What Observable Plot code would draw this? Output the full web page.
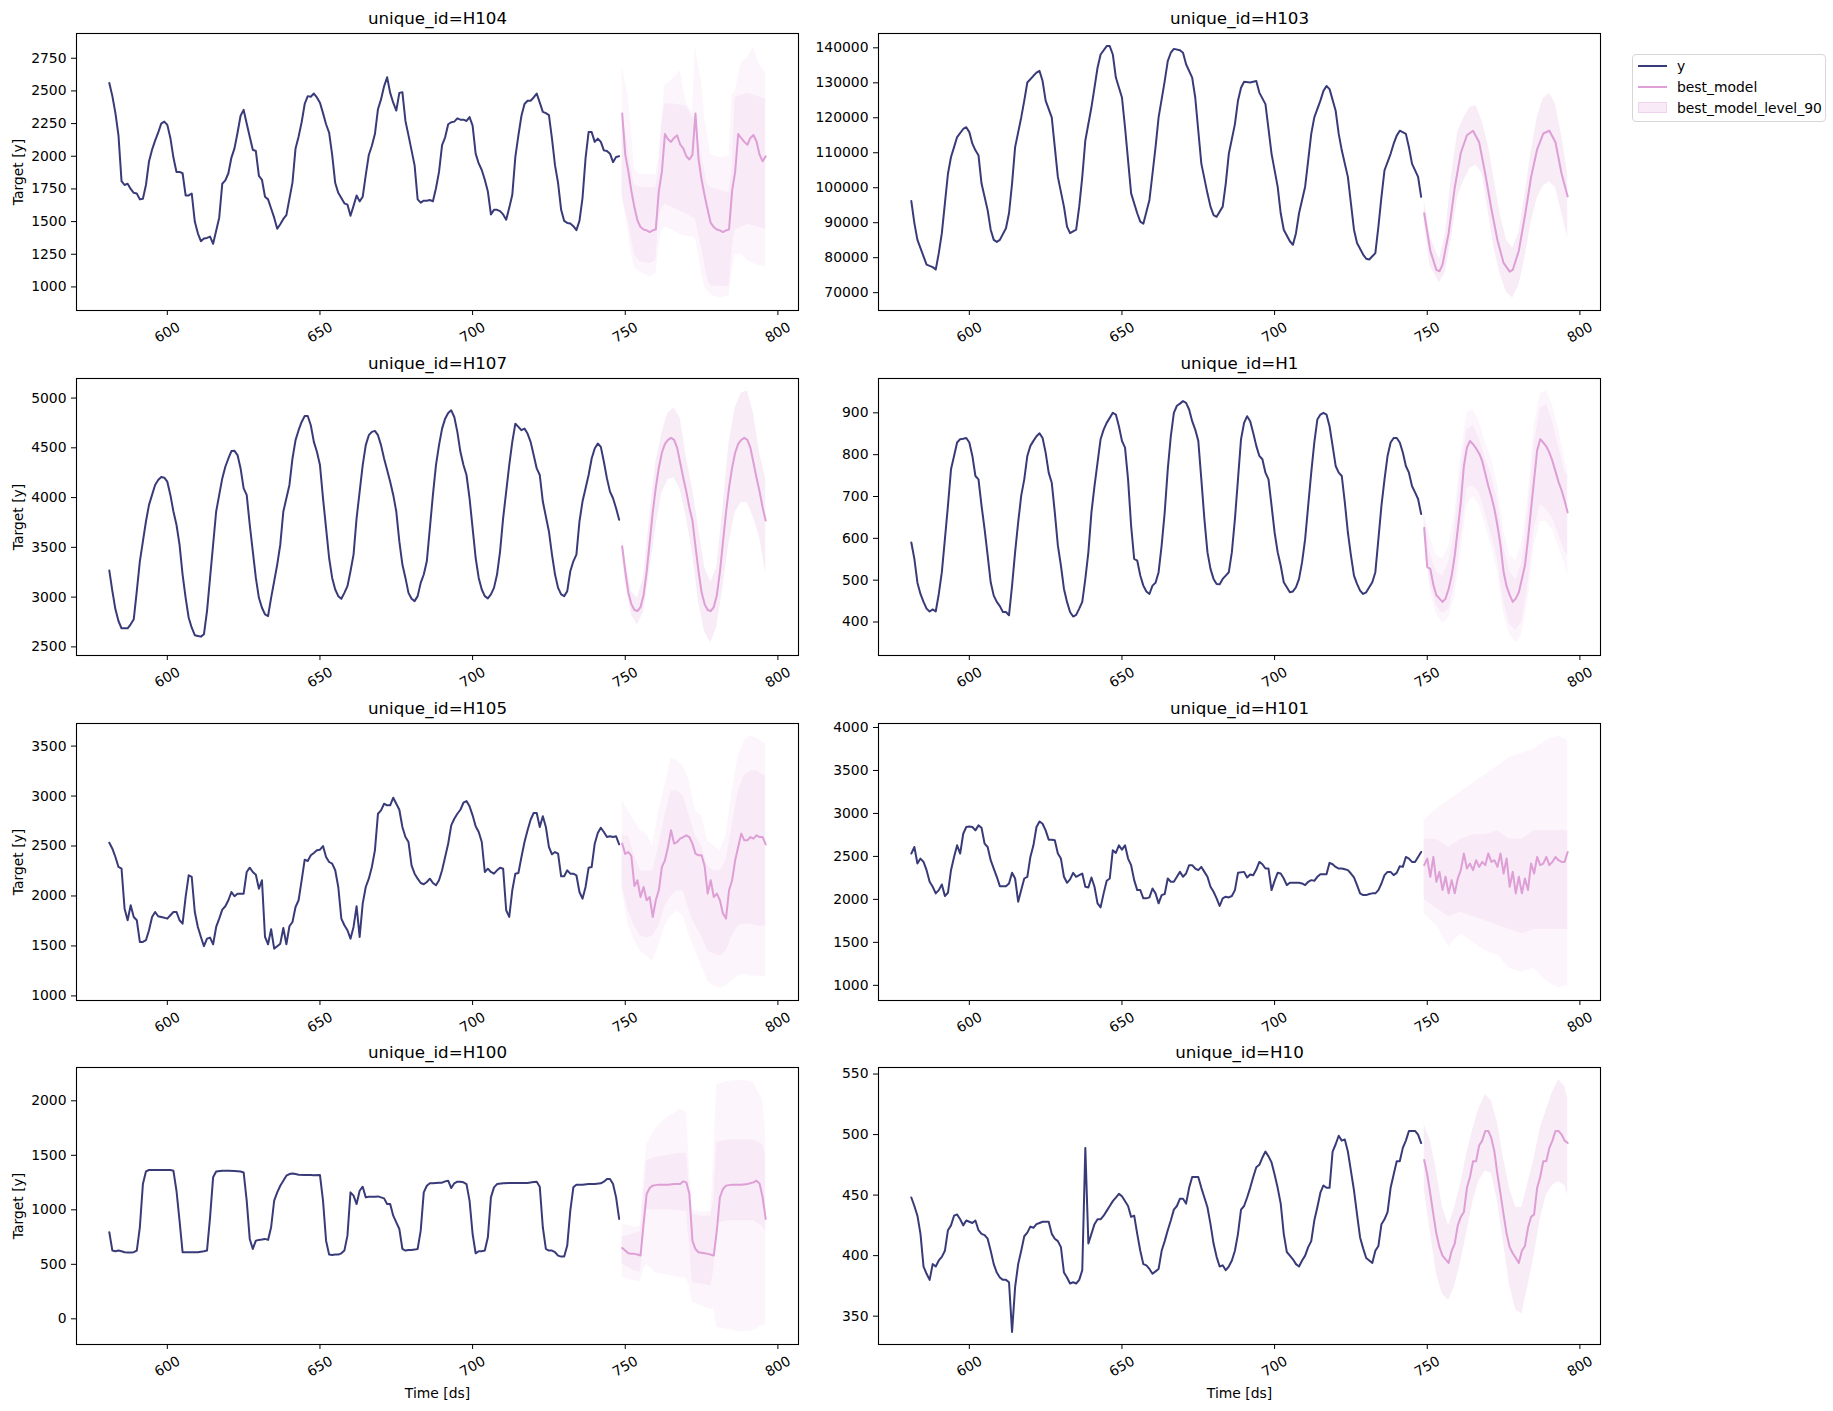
<!DOCTYPE html>
<html>
<head>
<meta charset="utf-8">
<script src="https://cdn.jsdelivr.net/npm/d3@7"></script>
<script src="https://cdn.jsdelivr.net/npm/@observablehq/plot@0.6"></script>
<style>
  html, body { margin: 0; padding: 0; background: #ffffff; }
  #fig { position: relative; width: 1833px; height: 1411px; background: #ffffff; font-family: "DejaVu Sans", sans-serif; }
  #fig svg { position: absolute; }
  #legend { position: absolute; left: 1632px; top: 54px; width: 192px; height: 66px; border: 1px solid #d6d6d6; border-radius: 4px; background: #ffffff; font-size: 13.9px; color: #000; }
  .lg { position: absolute; left: 0; height: 20px; width: 100%; }
  .sw { position: absolute; left: 5px; width: 29px; }
  .lt { position: absolute; left: 44px; top: 0; line-height: 20px; white-space: nowrap; }
</style>
</head>
<body>
<div id="fig">
  <div id="legend">
    <div class="lg" style="top:1px"><div class="sw" style="top:9px;height:2px;background:#393b79"></div><div class="lt">y</div></div>
    <div class="lg" style="top:22px"><div class="sw" style="top:9px;height:2px;background:#de9ed6"></div><div class="lt">best_model</div></div>
    <div class="lg" style="top:43px"><div class="sw" style="top:4px;height:11px;background:rgba(222,158,214,0.22);box-sizing:border-box;border:1px solid rgba(222,158,214,0.3)"></div><div class="lt">best_model_level_90</div></div>
  </div>
</div>
<script>
const NAVY = "#393b79", PINK = "#de9ed6";
const xTicks = [600, 650, 700, 750, 800];

// ---------- H104 ----------
const H104_ticks = [1000, 1250, 1500, 1750, 2000, 2250, 2500, 2750];
const H104_y = [[581,2560],[582,2460],[583,2330],[584,2160],[585,1810],[586,1780],[587,1790],[588,1750],[589,1720],[590,1715],[591,1670],[592,1675],[593,1780],[594,1960],[595,2050],[596,2120],[597,2180],[598,2250],[599,2265],[600,2240],[601,2140],[602,1990],[603,1880],[604,1880],[605,1870],[606,1700],[607,1700],[608,1715],[609,1500],[610,1410],[611,1350],[612,1370],[613,1375],[614,1385],[615,1330],[616,1430],[617,1530],[618,1790],[619,1815],[620,1870],[621,1990],[622,2060],[623,2180],[624,2310],[625,2355],[626,2250],[627,2150],[628,2050],[629,2040],[630,1850],[631,1820],[632,1690],[633,1670],[634,1600],[635,1530],[636,1445],[637,1480],[638,1520],[639,1550],[641,1800],[642,2060],[643,2150],[644,2260],[645,2400],[646,2460],[647,2455],[648,2480],[649,2450],[650,2410],[651,2330],[652,2245],[653,2180],[654,2010],[655,1795],[656,1720],[657,1680],[658,1640],[659,1630],[660,1545],[661,1620],[662,1700],[663,1655],[664,1690],[665,1855],[666,2010],[667,2080],[668,2170],[669,2360],[670,2435],[671,2535],[672,2605],[673,2485],[674,2410],[675,2350],[676,2485],[677,2490],[678,2270],[679,2160],[680,2045],[681,1930],[682,1670],[683,1645],[684,1660],[685,1660],[686,1665],[687,1655],[688,1755],[689,1880],[690,2085],[691,2145],[692,2245],[693,2260],[694,2265],[695,2290],[696,2280],[697,2280],[698,2270],[699,2300],[700,2235],[701,2020],[702,1945],[703,1895],[704,1820],[705,1730],[706,1555],[707,1590],[708,1590],[709,1580],[710,1555],[711,1515],[712,1605],[713,1705],[714,1995],[715,2160],[716,2310],[717,2400],[718,2425],[719,2425],[720,2450],[721,2480],[722,2410],[723,2340],[724,2330],[725,2315],[726,2135],[727,1930],[728,1795],[729,1590],[730,1505],[731,1490],[732,1485],[733,1465],[734,1435],[735,1505],[736,1680],[737,1985],[738,2185],[739,2185],[740,2110],[741,2135],[742,2110],[743,2045],[744,2040],[745,2020],[746,1955],[747,1995],[748,2000]];
const H104_best = [[749,2327],[750,2012],[751,1886],[752,1735],[753,1609],[754,1508],[755,1458],[756,1440],[757,1433],[758,1420],[759,1433],[760,1440],[761,1735],[762,1880],[763,2170],[764,2130],[765,2110],[766,2140],[767,2160],[768,2090],[769,2060],[770,2000],[771,1975],[772,2010],[773,2327],[774,1980],[775,1820],[776,1700],[777,1590],[778,1490],[779,1458],[780,1440],[781,1433],[782,1420],[783,1433],[784,1440],[785,1735],[786,1880],[787,2170],[788,2138],[789,2110],[790,2088],[791,2140],[792,2163],[793,2113],[794,2012],[795,1962],[796,1999]];
const H104_band = [[749,1700,2300],[750,1600,2200],[751,1500,2050],[752,1380,1900],[753,1250,1780],[755,1190,1760],[758,1180,1760],[760,1200,1760],[761,1530,1900],[762,1600,2250],[763,1634,2400],[766,1600,2400],[770,1560,2380],[772,1533,2300],[773,1520,2290],[775,1300,2000],[777,1050,1780],[778,1010,1760],[784,1004,1720],[785,1300,1900],[786,1433,2450],[790,1480,2480],[796,1440,2440]];
const H104_spikes = [[749,1680,2692],[750,1550,2566],[751,1420,2450],[752,1250,2200],[753,1150,1900],[755,1110,1861],[758,1080,1861],[760,1100,1861],[761,1300,2000],[762,1430,2290],[763,1458,2541],[765,1440,2580],[768,1400,2654],[770,1390,2400],[772,1380,2340],[773,1370,2843],[774,1250,2692],[775,1100,2566],[776,1000,2300],[778,940,2012],[781,916,1987],[784,930,2000],[785,1100,2478],[786,1250,2491],[788,1250,2717],[790,1200,2750],[792,1180,2831],[794,1160,2700],[796,1160,2642]];

// ---------- H103 ----------
const H103_ticks = [70000, 80000, 90000, 100000, 110000, 120000, 130000, 140000];
const H103_y = [[581,96200],[582,89900],[583,85100],[585,80400],[586,78000],[588,77300],[589,76600],[590,81300],[591,87000],[592,95500],[593,104000],[594,108800],[595,111600],[596,114500],[598,116800],[599,117300],[600,115900],[601,112600],[602,110700],[603,109300],[604,101200],[606,93600],[607,88000],[608,85100],[609,84500],[610,85100],[612,88400],[613,92700],[614,101200],[615,111600],[617,120100],[618,124900],[619,130100],[621,132000],[622,132900],[623,133400],[624,130500],[625,124900],[627,120100],[628,111600],[629,103100],[631,94600],[632,88900],[633,87000],[635,88000],[636,94600],[637,103100],[638,113500],[640,123000],[641,128600],[642,134300],[643,138100],[645,140500],[646,140500],[647,138100],[648,131500],[650,125800],[651,117300],[652,107800],[653,98400],[655,92700],[656,90300],[657,89700],[659,96500],[660,104000],[661,111600],[662,120100],[664,130500],[665,136200],[666,138600],[667,139700],[669,139300],[670,138600],[671,135300],[673,131500],[674,125800],[675,116300],[676,106900],[678,98400],[679,94600],[680,92200],[681,91700],[683,94600],[684,101200],[685,109700],[687,118200],[688,124900],[689,128600],[690,130300],[692,130100],[693,130300],[694,130500],[695,127200],[697,123900],[698,116800],[699,109700],[701,100300],[702,92700],[703,88000],[705,84700],[706,83700],[707,87000],[708,92700],[710,100300],[711,107800],[712,115400],[713,120100],[715,124900],[716,127700],[717,129100],[718,128200],[720,122000],[721,115400],[722,110700],[724,103100],[725,95500],[726,88000],[727,84200],[729,80900],[730,79700],[731,79500],[733,81300],[734,88900],[735,97400],[736,105000],[738,109700],[739,112600],[740,114900],[741,116300],[743,115400],[744,111600],[745,106900],[747,103100],[748,97400]];
const H103_best = [[749,92700],[751,82000],[753,76500],[754,76100],[755,78000],[757,87000],[759,100000],[761,110000],[763,115000],[765,116300],[767,113000],[769,104000],[771,94000],[773,85000],[775,78500],[777,76000],[778,76500],[780,82000],[782,92000],[784,103000],[786,111000],[788,115500],[790,116300],[792,113000],[794,104000],[796,97500]];
const H103_band = [[749,90000,96500],[751,77500,86000],[754,72800,79500],[756,76000,87000],[758,86000,104000],[760,97500,116000],[762,102000,120000],[764,105500,123000],[766,106500,123500],[768,104000,119000],[770,93000,112000],[772,82000,102000],[774,75000,92000],[776,70000,85000],[778,68500,82800],[780,72000,87000],[782,80000,98000],[784,90000,110000],[786,97000,120000],[788,100500,125500],[790,101700,127000],[792,100000,124000],[794,93000,115000],[796,85600,104000]];

// ---------- H107 ----------
const H107_ticks = [2500, 3000, 3500, 4000, 4500, 5000];
const H107_y = [[581,3267],[582,3060],[583,2877],[584,2760],[585,2687],[587,2687],[588,2727],[589,2777],[590,3060],[591,3360],[592,3560],[593,3760],[594,3927],[595,4027],[596,4127],[597,4177],[598,4207],[599,4200],[600,4160],[601,4027],[602,3860],[603,3727],[604,3527],[605,3227],[606,2993],[607,2793],[608,2693],[609,2617],[610,2610],[611,2603],[612,2627],[613,2860],[614,3193],[615,3527],[616,3860],[617,4027],[618,4193],[619,4310],[620,4393],[621,4467],[622,4470],[623,4427],[624,4293],[625,4093],[626,4027],[627,3727],[628,3460],[629,3193],[630,2993],[631,2893],[632,2827],[633,2810],[634,2993],[635,3160],[636,3327],[637,3527],[638,3860],[640,4127],[641,4393],[642,4577],[643,4677],[644,4760],[645,4820],[646,4820],[647,4727],[648,4560],[649,4460],[650,4327],[651,3993],[652,3693],[653,3393],[654,3193],[655,3077],[656,3010],[657,2983],[658,3043],[659,3110],[660,3260],[661,3427],[662,3793],[663,4060],[664,4327],[665,4527],[666,4627],[667,4660],[668,4670],[669,4627],[670,4527],[671,4393],[672,4277],[673,4160],[674,4027],[675,3860],[676,3560],[677,3327],[678,3193],[679,3043],[680,2983],[681,2960],[682,3010],[683,3143],[684,3227],[685,3360],[686,3693],[687,4027],[688,4327],[689,4527],[690,4693],[691,4793],[692,4850],[693,4877],[694,4810],[695,4660],[696,4460],[697,4327],[698,4227],[699,3993],[700,3693],[701,3393],[702,3193],[703,3077],[704,3010],[705,2987],[706,3027],[707,3093],[708,3227],[709,3460],[710,3793],[711,4060],[712,4327],[713,4560],[714,4743],[715,4710],[716,4677],[717,4693],[718,4643],[719,4560],[720,4427],[721,4293],[722,4227],[723,3960],[725,3660],[726,3427],[727,3227],[728,3093],[729,3027],[730,3010],[731,3060],[732,3260],[733,3360],[734,3427],[735,3760],[736,3960],[737,4093],[738,4227],[739,4393],[740,4493],[741,4543],[742,4510],[743,4360],[744,4193],[745,4060],[746,3993],[747,3893],[748,3777]];
const H107_best = [[749,3510],[750,3260],[751,3050],[752,2930],[753,2870],[754,2860],[755,2900],[756,3020],[757,3250],[758,3550],[759,3850],[760,4100],[761,4300],[762,4450],[763,4540],[764,4580],[765,4600],[766,4580],[767,4500],[768,4350],[769,4200],[770,4060],[771,3900],[772,3770],[773,3510],[774,3260],[775,3050],[776,2930],[777,2870],[778,2860],[779,2900],[780,3020],[781,3250],[782,3550],[783,3850],[784,4100],[785,4300],[786,4450],[787,4540],[788,4580],[789,4600],[790,4580],[791,4500],[792,4350],[793,4200],[794,4060],[795,3900],[796,3770]];
const H107_band = [[749,3440,3580],[750,3150,3380],[752,2820,3060],[754,2720,2990],[756,2850,3200],[758,3250,3800],[760,3700,4350],[762,4050,4650],[764,4180,4850],[766,4200,4900],[768,4080,4800],[770,3800,4400],[772,3450,4100],[774,2950,3700],[776,2650,3300],[778,2540,3150],[780,2700,3300],[782,3100,3900],[784,3550,4550],[786,3850,4900],[788,3950,5050],[790,3950,5070],[792,3800,4850],[794,3600,4450],[796,3240,4190]];

// ---------- H1 ----------
const H1_ticks = [400, 500, 600, 700, 800, 900];
const H1_y = [[581,590],[582,551],[583,494],[584,467],[585,448],[586,432],[587,425],[588,430],[589,425],[590,467],[591,519],[592,598],[593,678],[594,765],[595,797],[596,829],[597,837],[598,838],[599,840],[600,829],[601,797],[602,749],[603,741],[604,678],[605,622],[606,559],[607,495],[608,463],[609,448],[610,438],[611,424],[612,424],[613,416],[614,487],[615,567],[616,638],[617,702],[618,741],[619,797],[620,821],[621,833],[622,844],[623,851],[624,840],[625,805],[626,757],[627,733],[628,662],[629,583],[630,535],[631,479],[632,448],[633,424],[634,413],[635,417],[636,432],[637,448],[638,503],[639,567],[640,662],[641,725],[642,781],[643,837],[644,860],[645,876],[646,888],[647,900],[648,896],[649,868],[650,833],[651,817],[652,741],[653,630],[654,551],[655,547],[656,511],[657,487],[658,473],[659,467],[660,487],[661,494],[662,519],[663,583],[664,662],[665,765],[666,844],[667,900],[668,917],[669,922],[670,928],[671,924],[672,908],[673,880],[674,860],[675,833],[676,741],[677,646],[678,567],[679,527],[680,503],[681,491],[682,490],[683,503],[684,511],[685,519],[686,567],[687,646],[688,741],[689,837],[690,876],[691,892],[692,880],[693,852],[694,821],[695,797],[696,789],[697,757],[698,741],[699,678],[700,614],[701,567],[702,535],[703,495],[704,483],[705,471],[706,473],[707,483],[708,503],[709,543],[710,598],[711,678],[712,757],[713,829],[714,884],[715,896],[716,900],[717,896],[718,868],[719,821],[720,773],[721,757],[722,749],[723,686],[724,614],[725,559],[726,511],[727,491],[728,475],[729,467],[730,471],[731,483],[732,495],[733,519],[734,598],[735,678],[736,741],[737,797],[738,829],[739,840],[740,840],[741,829],[742,805],[743,773],[744,757],[745,725],[746,710],[747,694],[748,658]];
const H1_best = [[749,625],[750,531],[751,527],[752,489],[753,464],[754,456],[755,448],[756,456],[757,479],[758,511],[759,559],[760,622],[761,686],[762,773],[763,817],[764,833],[765,825],[766,815],[767,803],[768,785],[769,755],[770,725],[771,700],[772,670],[773,630],[774,583],[775,520],[776,485],[777,465],[778,448],[779,456],[780,471],[781,503],[782,535],[783,598],[784,670],[785,740],[786,810],[787,837],[788,829],[789,820],[790,805],[791,785],[792,760],[793,735],[794,715],[795,690],[796,662]];
const H1_band = [[749,610,650],[751,490,560],[753,440,520],[755,420,510],[757,430,540],[759,490,620],[761,600,760],[763,720,860],[765,725,870],[767,710,840],[769,660,790],[771,610,750],[773,550,690],[775,450,580],[777,395,520],[779,380,500],[781,400,540],[783,490,660],[785,620,820],[787,680,910],[789,670,920],[791,650,880],[793,610,820],[795,570,760],[796,560,750]];
const H1_spikes = [[749,600,660],[751,470,600],[753,420,560],[755,395,550],[757,410,580],[759,460,660],[761,560,800],[763,680,900],[765,700,908],[767,680,880],[769,630,830],[771,580,790],[773,520,730],[775,420,620],[777,370,560],[779,350,545],[781,370,590],[783,450,700],[785,580,870],[787,640,945],[789,640,952],[791,620,920],[793,580,860],[795,540,790],[796,510,765]];

// ---------- H105 ----------
const H105_ticks = [1000, 1500, 2000, 2500, 3000, 3500];
const H105_y = [[581,2533],[582,2473],[583,2390],[584,2290],[585,2273],[586,1873],[587,1757],[588,1907],[589,1790],[590,1757],[591,1540],[592,1540],[593,1557],[594,1657],[595,1790],[596,1840],[597,1797],[598,1790],[599,1783],[600,1773],[601,1807],[602,1840],[603,1840],[604,1757],[605,1723],[606,1990],[607,2207],[608,2190],[609,1840],[610,1690],[611,1590],[612,1497],[613,1573],[614,1583],[615,1517],[616,1690],[617,1773],[618,1863],[619,1897],[620,1957],[621,2040],[622,1997],[623,2023],[624,2023],[625,2023],[626,2240],[627,2283],[628,2240],[629,2213],[630,2073],[631,2157],[632,1590],[633,1517],[634,1667],[635,1473],[636,1497],[637,1523],[638,1680],[639,1517],[640,1697],[641,1740],[642,1890],[643,1957],[644,2157],[645,2363],[646,2350],[647,2407],[648,2430],[649,2457],[650,2463],[651,2500],[652,2390],[653,2340],[654,2323],[655,2257],[656,2090],[657,1773],[658,1707],[659,1657],[660,1573],[661,1690],[662,1897],[663,1590],[664,1923],[665,2090],[666,2173],[667,2290],[668,2457],[669,2823],[670,2857],[671,2923],[672,2907],[673,2907],[674,2983],[675,2923],[676,2863],[677,2690],[678,2590],[679,2540],[680,2307],[681,2223],[682,2173],[683,2130],[684,2117],[685,2140],[686,2173],[687,2130],[688,2107],[689,2157],[690,2257],[691,2390],[692,2523],[693,2707],[694,2773],[695,2823],[696,2863],[697,2933],[698,2950],[699,2897],[700,2807],[701,2697],[702,2640],[703,2540],[704,2240],[705,2273],[706,2240],[707,2223],[708,2257],[709,2283],[710,2273],[711,1857],[712,1790],[713,2057],[714,2223],[715,2230],[716,2390],[717,2540],[718,2657],[719,2763],[720,2830],[721,2830],[722,2690],[723,2797],[724,2690],[725,2490],[726,2417],[727,2440],[728,2423],[729,2197],[730,2197],[731,2257],[732,2223],[733,2223],[734,2207],[735,2040],[736,1973],[737,2090],[738,2283],[739,2290],[740,2523],[741,2630],[742,2683],[743,2640],[744,2590],[745,2597],[746,2590],[747,2597],[748,2517]];
const H105_best = [[749,2524],[750,2420],[751,2440],[752,2400],[753,2100],[754,2157],[755,1990],[756,2090],[757,1957],[758,1990],[759,1790],[760,1957],[761,2057],[762,2290],[763,2357],[764,2490],[765,2657],[766,2524],[767,2540],[768,2574],[769,2590],[770,2607],[771,2590],[772,2524],[773,2424],[774,2407],[775,2407],[776,2300],[777,2024],[778,2157],[779,1990],[780,2024],[781,1957],[782,1824],[783,1774],[784,2057],[785,2157],[786,2357],[787,2490],[788,2624],[789,2557],[790,2557],[791,2590],[792,2574],[793,2607],[794,2590],[795,2590],[796,2517]];
const H105_band = [[749,2100,2600],[751,1850,2600],[753,1700,2400],[755,1600,2250],[757,1580,2250],[759,1600,2250],[761,1700,2500],[763,1900,2800],[765,2000,3050],[767,2050,3050],[769,2050,3000],[771,1850,2800],[773,1700,2600],[775,1600,2500],[777,1450,2300],[779,1420,2250],[781,1400,2250],[783,1450,2350],[785,1600,2700],[787,1700,3050],[789,1720,3200],[791,1720,3250],[793,1700,3250],[796,1700,3200]];
const H105_spikes = [[749,2050,2950],[751,1700,2850],[753,1550,2750],[755,1450,2650],[757,1400,2620],[759,1350,2500],[761,1500,2850],[763,1700,3100],[765,1800,3380],[767,1850,3350],[769,1800,3300],[771,1600,3150],[773,1450,2850],[775,1300,2800],[777,1150,2550],[779,1100,2500],[781,1080,2450],[783,1100,2600],[785,1150,3050],[787,1200,3400],[789,1220,3550],[791,1200,3600],[793,1200,3580],[796,1190,3520]];

// ---------- H101 ----------
const H101_ticks = [1000, 1500, 2000, 2500, 3000, 3500, 4000];
const H101_y = [[581,2533],[582,2610],[583,2417],[584,2475],[585,2436],[586,2340],[587,2205],[588,2147],[589,2070],[590,2108],[591,2174],[592,2039],[593,2077],[594,2340],[595,2494],[596,2629],[597,2533],[598,2764],[599,2842],[600,2849],[601,2842],[602,2803],[603,2861],[604,2834],[605,2649],[606,2610],[607,2456],[608,2359],[609,2263],[610,2154],[611,2154],[612,2154],[613,2185],[614,2309],[615,2243],[616,1973],[617,2108],[618,2243],[619,2263],[620,2494],[621,2629],[622,2842],[623,2907],[624,2880],[625,2803],[626,2695],[627,2695],[628,2687],[629,2533],[630,2475],[631,2263],[632,2193],[633,2232],[634,2309],[635,2263],[636,2282],[637,2301],[638,2147],[639,2139],[640,2255],[641,2147],[642,1954],[643,1907],[644,2070],[645,2216],[646,2243],[647,2572],[648,2541],[649,2629],[650,2579],[651,2629],[652,2475],[653,2398],[654,2224],[655,2108],[656,2108],[657,2012],[658,2012],[659,2023],[660,2127],[661,2070],[662,1954],[663,2050],[664,2062],[665,2243],[666,2205],[667,2205],[668,2263],[669,2320],[670,2263],[671,2301],[672,2398],[673,2398],[674,2359],[675,2340],[676,2378],[677,2320],[678,2263],[679,2147],[680,2089],[681,2012],[682,1923],[683,2012],[684,2031],[685,2023],[686,2039],[687,2108],[688,2309],[690,2320],[691,2255],[692,2290],[693,2282],[694,2347],[695,2436],[696,2409],[697,2359],[698,2359],[699,2108],[700,2216],[701,2309],[702,2301],[703,2243],[704,2166],[705,2193],[706,2193],[707,2193],[708,2193],[709,2185],[710,2166],[711,2205],[712,2224],[713,2216],[714,2263],[715,2293],[716,2293],[717,2293],[718,2425],[719,2409],[720,2378],[721,2359],[722,2359],[723,2351],[724,2340],[725,2301],[726,2255],[727,2166],[728,2070],[729,2050],[730,2050],[731,2062],[732,2070],[733,2070],[734,2108],[735,2185],[736,2282],[737,2320],[738,2320],[739,2282],[740,2309],[741,2386],[742,2378],[743,2494],[744,2475],[745,2436],[746,2436],[747,2494],[748,2552]];
const H101_best = [[749,2398],[750,2475],[751,2263],[752,2494],[753,2205],[754,2320],[755,2108],[756,2263],[757,2070],[758,2224],[759,2070],[760,2243],[761,2340],[762,2533],[763,2359],[764,2417],[765,2340],[766,2456],[767,2378],[768,2436],[769,2398],[770,2533],[771,2436],[772,2456],[773,2378],[774,2533],[775,2301],[776,2475],[777,2147],[778,2320],[779,2070],[780,2263],[781,2070],[782,2243],[783,2108],[784,2417],[785,2301],[786,2494],[787,2398],[788,2417],[789,2494],[790,2398],[791,2436],[792,2494],[793,2456],[794,2436],[795,2436],[796,2552]];
const H101_band = [[749,2000,2700],[753,1900,2700],[757,1800,2600],[761,1850,2700],[765,1800,2750],[769,1750,2750],[773,1700,2800],[777,1650,2700],[781,1600,2700],[785,1650,2800],[789,1650,2800],[793,1650,2800],[796,1650,2800]];
const H101_spikes = [[749,1830,2920],[753,1700,3050],[757,1450,3150],[761,1600,3250],[765,1500,3350],[769,1400,3450],[773,1350,3550],[777,1200,3650],[781,1150,3700],[785,1200,3750],[789,1050,3850],[793,970,3900],[796,1000,3850]];

// ---------- H100 ----------
const H100_ticks = [0, 500, 1000, 1500, 2000];
const H100_y = [[581,794],[582,626],[583,620],[584,626],[585,620],[586,611],[587,608],[588,608],[589,611],[590,626],[591,840],[592,1236],[593,1352],[594,1365],[597,1365],[599,1365],[601,1365],[602,1358],[603,1175],[604,901],[605,611],[606,611],[608,611],[610,611],[612,620],[613,626],[614,931],[615,1298],[616,1352],[618,1358],[620,1358],[622,1356],[624,1352],[625,1343],[626,1084],[627,733],[628,641],[629,717],[630,724],[631,727],[632,733],[633,724],[634,840],[635,1084],[636,1160],[637,1221],[638,1267],[639,1313],[640,1328],[641,1334],[642,1328],[643,1322],[645,1319],[647,1319],[648,1316],[650,1319],[651,1084],[652,717],[653,589],[654,586],[655,589],[656,589],[657,601],[658,626],[659,763],[660,1160],[661,1130],[662,1053],[663,1175],[664,1212],[665,1114],[666,1120],[667,1120],[668,1120],[669,1123],[670,1114],[671,1105],[672,1053],[673,1053],[674,946],[675,885],[676,824],[677,641],[678,626],[679,632],[680,632],[681,635],[682,641],[683,809],[684,1160],[685,1221],[686,1243],[687,1243],[688,1246],[689,1249],[690,1249],[691,1261],[692,1267],[693,1200],[694,1243],[695,1258],[696,1258],[697,1252],[698,1236],[699,1084],[700,778],[701,601],[702,620],[703,620],[704,626],[705,748],[706,1114],[707,1206],[708,1236],[710,1243],[712,1246],[714,1246],[716,1246],[718,1246],[720,1255],[721,1258],[722,1212],[723,840],[724,641],[725,626],[726,626],[727,611],[728,580],[729,571],[730,571],[731,672],[732,992],[733,1206],[734,1230],[736,1230],[738,1236],[740,1236],[742,1243],[743,1258],[744,1282],[745,1282],[746,1236],[747,1114],[748,916]];
const H100_best = [[749,650],[750,626],[751,602],[752,598],[753,596],[754,590],[755,581],[756,870],[757,1145],[758,1200],[759,1222],[761,1231],[764,1231],[766,1237],[768,1237],[769,1261],[770,1252],[771,1150],[772,718],[773,640],[774,611],[776,602],[777,596],[779,581],[780,810],[781,1115],[782,1191],[783,1222],[785,1231],[788,1231],[790,1237],[792,1252],[793,1267],[794,1240],[795,1115],[796,916]];
const H100_band = [[749,500,750],[753,440,780],[755,430,800],[756,700,1100],[757,1000,1450],[760,1000,1480],[764,1000,1500],[768,990,1520],[770,990,1520],[771,700,1200],[772,330,960],[775,320,940],[778,300,940],[779,450,1100],[780,880,1620],[784,900,1640],[788,900,1640],[792,900,1640],[795,850,1600],[796,800,1500]];
const H100_spikes = [[749,380,870],[753,350,840],[755,340,850],[756,450,1300],[757,500,1600],[760,420,1750],[764,400,1850],[768,380,1920],[770,370,1900],[771,300,1400],[772,150,1000],[775,120,980],[778,80,990],[779,100,1500],[780,-80,2150],[784,-100,2180],[788,-120,2190],[792,-110,2170],[795,-60,2000],[796,-50,1700]];

// ---------- H10 ----------
const H10_ticks = [350, 400, 450, 500, 550];
const H10_y = [[581,448],[582,441],[583,433],[584,418],[585,391],[586,385],[587,380],[588,393],[589,391],[590,396],[591,399],[592,404],[593,421],[594,425],[595,433],[596,434],[597,430],[598,425],[599,429],[600,428],[601,427],[602,429],[603,421],[604,418],[605,417],[606,414],[607,404],[608,393],[609,386],[610,382],[611,380],[612,380],[613,378],[614,337],[615,374],[616,393],[617,404],[618,416],[619,419],[620,424],[621,423],[622,426],[623,427],[624,428],[625,428],[626,428],[627,418],[628,414],[629,412],[630,407],[631,386],[632,382],[633,377],[634,378],[635,377],[636,380],[637,388],[638,489],[639,410],[640,418],[641,426],[642,430],[643,430],[644,433],[645,437],[646,441],[647,445],[648,448],[649,451],[650,449],[652,441],[653,432],[654,433],[655,418],[656,404],[657,393],[658,392],[659,389],[660,385],[661,387],[662,389],[663,404],[664,412],[665,421],[666,429],[667,438],[668,441],[669,447],[670,447],[671,443],[672,456],[673,465],[674,465],[675,465],[676,456],[677,448],[678,440],[679,426],[680,410],[681,399],[682,391],[683,392],[684,388],[685,391],[686,396],[687,404],[688,418],[689,438],[690,441],[691,448],[692,456],[693,465],[694,473],[695,475],[696,481],[697,486],[698,482],[699,477],[700,467],[701,456],[702,443],[703,418],[704,403],[705,400],[706,397],[707,393],[708,391],[709,396],[710,400],[711,407],[712,412],[713,429],[714,440],[715,452],[716,458],[717,456],[718,456],[719,486],[720,492],[721,499],[722,495],[723,496],[724,486],[725,470],[726,454],[727,434],[728,415],[729,406],[730,398],[731,396],[732,394],[733,404],[734,408],[735,426],[736,430],[737,436],[738,456],[739,467],[740,478],[741,478],[742,489],[743,495],[744,503],[745,503],[746,503],[747,500],[748,493]];
const H10_best = [[749,479],[750,467],[751,451],[752,434],[753,418],[754,407],[755,400],[756,397],[757,394],[758,404],[759,410],[760,425],[761,432],[762,436],[763,456],[764,465],[765,478],[766,478],[767,491],[768,495],[769,503],[770,503],[771,497],[772,486],[773,467],[774,451],[775,434],[776,418],[777,407],[778,402],[779,398],[780,394],[781,404],[782,408],[783,423],[784,432],[785,434],[786,456],[787,465],[788,478],[789,478],[790,489],[791,495],[792,503],[793,503],[794,500],[795,495],[796,493]];
const H10_band = [[749,455,508],[751,420,495],[753,385,470],[755,368,440],[757,363,425],[759,375,440],[761,395,460],[763,420,485],[765,445,505],[767,462,522],[769,470,533],[771,468,528],[773,445,510],[775,410,480],[777,375,455],[779,355,440],[781,352,440],[783,375,460],[785,400,480],[787,430,505],[789,450,520],[791,458,535],[793,461,545],[795,458,540],[796,450,530]];

const panels = [
  {title: "unique_id=H104", y: H104_y, best: H104_best, band: H104_band, spikes: H104_spikes, ticks: H104_ticks},
  {title: "unique_id=H103", y: H103_y, best: H103_best, band: H103_band, ticks: H103_ticks},
  {title: "unique_id=H107", y: H107_y, best: H107_best, band: H107_band, ticks: H107_ticks},
  {title: "unique_id=H1", y: H1_y, best: H1_best, band: H1_band, spikes: H1_spikes, ticks: H1_ticks},
  {title: "unique_id=H105", y: H105_y, best: H105_best, band: H105_band, spikes: H105_spikes, ticks: H105_ticks},
  {title: "unique_id=H101", y: H101_y, best: H101_best, band: H101_band, spikes: H101_spikes, ticks: H101_ticks},
  {title: "unique_id=H100", y: H100_y, best: H100_best, band: H100_band, spikes: H100_spikes, ticks: H100_ticks},
  {title: "unique_id=H10", y: H10_y, best: H10_best, band: H10_band, ticks: H10_ticks}
];

const fig = document.getElementById("fig");
const tops = [0, 345, 690, 1034];
const X = d => d[0], V = d => d[1], LO = d => d[1], HI = d => d[2];

panels.forEach((p, i) => {
  const col = i % 2, row = Math.floor(i / 2), last = row === 3;
  const vals = p.y.map(V).concat(p.best.map(V));
  for (const d of p.band.concat(p.spikes || [])) vals.push(d[1], d[2]);
  const [mn, mx] = d3.extent(vals);
  const pad = (mx - mn) * 0.05;
  const xs = p.y.map(X).concat(p.best.map(X));
  const [x0, x1] = d3.extent(xs);
  const xpad = (x1 - x0) * 0.05;

  const marks = [];
  if (p.spikes) marks.push(Plot.areaY(p.spikes, {x: X, y1: LO, y2: HI, fill: PINK, fillOpacity: 0.1, curve: "linear"}));
  marks.push(Plot.areaY(p.band, {x: X, y1: LO, y2: HI, fill: PINK, fillOpacity: p.spikes ? 0.12 : 0.2, curve: "linear"}));
  marks.push(Plot.line(p.y, {x: X, y: V, stroke: NAVY, strokeWidth: 2}));
  marks.push(Plot.line(p.best, {x: X, y: V, stroke: PINK, strokeWidth: 2}));
  marks.push(Plot.frame({stroke: "black", strokeWidth: 1.1}));
  marks.push(Plot.axisY(p.ticks, {tickSize: 5, tickPadding: 5, tickFormat: d => String(d), label: null, fontSize: 13.9}));
  marks.push(Plot.axisX(xTicks, {tickSize: 5, tickFormat: () => "", label: null}));
  marks.push(Plot.text(xTicks, {x: d => d, text: d => String(d), frameAnchor: "bottom", dy: 22, rotate: -30, fontSize: 13.9, textAnchor: "middle", lineAnchor: "middle"}));
  marks.push(Plot.text([p.title], {text: d => d, frameAnchor: "top", dy: -15, fontSize: 16.7, lineAnchor: "middle"}));
  if (col === 0) marks.push(Plot.text(["Target [y]"], {text: d => d, frameAnchor: "left", dx: -58, rotate: -90, fontSize: 13.9, lineAnchor: "middle", textAnchor: "middle"}));
  if (last) marks.push(Plot.text(["Time [ds]"], {text: d => d, frameAnchor: "bottom", dy: 49, fontSize: 13.9, lineAnchor: "middle"}));

  const svg = Plot.plot({
    width: 802,
    height: last ? 377 : 345,
    marginLeft: 76,
    marginRight: 4,
    marginTop: 33,
    marginBottom: last ? 67 : 35,
    x: {domain: [x0 - xpad, x1 + xpad]},
    y: {domain: [mn - pad, mx + pad]},
    style: {fontFamily: "DejaVu Sans", fontSize: "13.9px", color: "black", background: "transparent", overflow: "visible"},
    marks
  });
  svg.style.left = (col * 802) + "px";
  svg.style.top = tops[row] + "px";
  svg.style.maxWidth = "none";
  fig.appendChild(svg);
});
</script>
</body>
</html>
